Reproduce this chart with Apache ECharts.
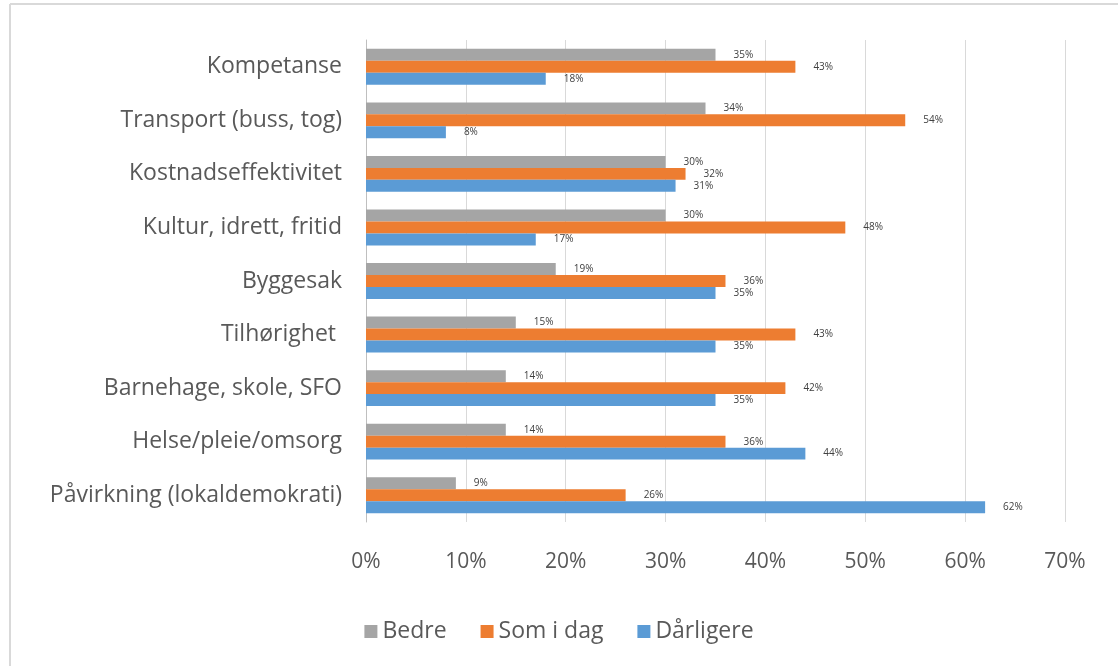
<!DOCTYPE html>
<html>
<head>
<meta charset="utf-8">
<script src="https://cdn.jsdelivr.net/npm/echarts@6/dist/echarts.min.js"></script>
<style>
    html, body { margin: 0; padding: 0; background: #ffffff; }
    #chart { width: 1118px; height: 666px; }
</style>
</head>
<body>
<div id="chart"></div>
<script>
const categories = [
    'Kompetanse',
    'Transport (buss, tog)',
    'Kostnadseffektivitet',
    'Kultur, idrett, fritid',
    'Byggesak',
    'Tilhørighet ',
    'Barnehage, skole, SFO',
    'Helse/pleie/omsorg',
    'Påvirkning (lokaldemokrati)'
];
const bedre = [35, 34, 30, 30, 19, 15, 14, 14, 9];
const somIDag = [43, 54, 32, 48, 36, 43, 42, 36, 26];
const darligere = [18, 8, 31, 17, 35, 35, 35, 44, 62];

const seriesNames = ['Bedre', 'Som i dag', 'Dårligere'];
const seriesColors = ['#a5a5a5', '#ed7d31', '#5b9bd5'];

const chart = echarts.init(document.getElementById('chart'));
const font = '"Open Sans", "Noto Sans", sans-serif';

function makeSeries(name, data, color) {
    return {
        name: name,
        type: 'bar',
        data: data,
        barGap: '0%',
        barCategoryGap: '33%',
        itemStyle: { color: color },
        label: {
            show: true,
            position: 'right',
            distance: 18,
            formatter: '{c}%',
            fontSize: 10,
            color: '#404040',
            fontFamily: font
        }
    };
}

chart.setOption({
    animation: false,
    textStyle: { fontFamily: font },
    graphic: [
        {
            type: 'line',
            shape: { x1: 10, y1: 4, x2: 1118, y2: 4 },
            style: { stroke: '#d9d9d9', lineWidth: 2 }
        },
        {
            type: 'line',
            shape: { x1: 10, y1: 4, x2: 10, y2: 666 },
            style: { stroke: '#d9d9d9', lineWidth: 2 }
        }
    ],
    legend: {
        bottom: 18,
        left: 'center',
        itemWidth: 13,
        itemHeight: 13,
        itemGap: 34,
        icon: 'rect',
        textStyle: { fontSize: 23, color: '#595959', fontFamily: font },
        data: seriesNames
    },
    grid: {
        left: 366,
        right: 53,
        top: 40,
        bottom: 144
    },
    xAxis: {
        type: 'value',
        min: 0,
        max: 70,
        interval: 10,
        axisLabel: {
            formatter: '{value}%',
            fontSize: 21,
            color: '#595959',
            margin: 30
        },
        axisLine: { show: false },
        axisTick: { show: false },
        splitLine: { lineStyle: { color: '#d9d9d9' } }
    },
    yAxis: {
        type: 'category',
        inverse: true,
        data: categories,
        axisLabel: {
            fontSize: 23,
            color: '#595959',
            margin: 24
        },
        axisLine: { show: true, lineStyle: { color: '#bfbfbf' } },
        axisTick: { show: false }
    },
    series: [
        makeSeries(seriesNames[0], bedre, seriesColors[0]),
        makeSeries(seriesNames[1], somIDag, seriesColors[1]),
        makeSeries(seriesNames[2], darligere, seriesColors[2])
    ]
});
</script>
</body>
</html>
